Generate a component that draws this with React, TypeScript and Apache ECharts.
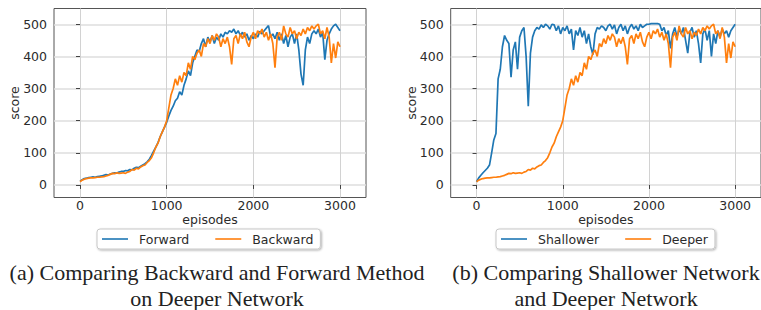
import React, { useEffect, useRef } from "react";
import * as echarts from "echarts";

const EPISODE_STEP = 25;

const forward = [
  12, 16, 20, 21, 23, 24, 25, 24, 26, 27,
  28, 30, 32, 31, 34, 36, 38, 37, 40, 42,
  42, 45, 44, 48, 47, 52, 55, 54, 58, 62,
  66, 72, 80, 92, 105, 118, 132, 150, 165, 180,
  195, 215, 232, 245, 262, 270, 290, 280, 310, 330,
  355, 340, 380, 400, 420, 415, 440, 455, 430, 460,
  445, 465, 440, 460, 450, 470, 460, 475, 470, 480,
  475, 485, 470, 480, 465, 475, 460, 470, 450, 465,
  455, 470, 460, 478, 470, 480, 488, 496, 460, 470,
  455, 475, 450, 470, 440, 465, 430, 460, 470, 440,
  470, 420, 345, 310, 420, 460, 440, 470, 480, 470,
  485, 460, 475, 390, 450, 470, 485, 495, 500, 490,
  480,
];

const deeperBackward = [
  10, 15, 18, 20, 21, 22, 22, 23, 24, 24,
  25, 26, 28, 30, 33, 36, 35, 38, 36, 37,
  38, 36, 40, 42, 48, 46, 52, 50, 56, 60,
  62, 70, 76, 85, 100, 118, 130, 150, 165, 180,
  200, 240, 280, 300, 330, 310, 340, 320, 350, 340,
  380, 360, 400, 390, 410, 420, 400, 440, 430, 455,
  440, 465, 450, 470, 460, 430, 455, 440, 460, 430,
  375, 455, 465, 440, 470, 455, 475, 445, 430, 460,
  475, 455, 480, 470, 485, 460, 475, 450, 470, 440,
  365, 460, 475, 450, 495, 470, 460, 490, 470, 480,
  455, 475, 465, 485, 470, 490, 480, 495, 485, 495,
  500, 470, 480, 455, 490, 460, 380, 440, 395, 445,
  430,
];

const shallower = [
  10, 22, 30, 38, 45, 52, 62, 100, 140, 160,
  330, 360, 430, 465, 450, 440, 335, 420, 445, 360,
  460, 480, 490, 400, 245, 410, 460, 480, 490, 485,
  498, 490, 500, 495, 485, 500, 498, 480, 495, 470,
  490, 480, 495, 470, 485, 420, 480, 465, 490, 460,
  480, 440, 470, 430, 405, 470, 490, 485, 495, 490,
  480, 495, 500, 485, 498, 470, 490, 500, 480, 495,
  470, 490, 500, 485, 495, 480, 500, 490, 495, 500,
  500, 502, 502, 502, 502, 500, 480, 490, 465, 480,
  425, 470, 490, 460, 485, 470, 490, 450, 410, 475,
  490, 460, 480, 440, 380, 470, 485, 450, 480, 400,
  470, 440, 480, 460, 485, 470, 480, 460, 480, 490,
  500,
];

const xTicks = [0, 1000, 2000, 3000];
const yTicks = [0, 100, 200, 300, 400, 500];

const BLUE = "#1f77b4";
const ORANGE = "#ff7f0e";
const FONT = "DejaVu Sans";

const toPairs = (arr: number[]) => arr.map((v, i) => [i * EPISODE_STEP, v]);

function makeX(gridIndex: number) {
  return {
    type: "value",
    gridIndex,
    min: -300,
    max: 3300,
    name: "episodes",
    nameLocation: "middle",
    nameGap: 15,
    nameMoveOverlap: false,
    nameTextStyle: { fontFamily: FONT, fontSize: 12.5, color: "#2b2b2b" },
    axisLine: { show: false },
    axisTick: { show: true, length: 4, lineStyle: { color: "#444" }, customValues: xTicks },
    axisLabel: {
      fontFamily: FONT,
      fontSize: 12.5,
      color: "#2b2b2b",
      margin: 1.5,
      customValues: xTicks,
      formatter: (v: number) => String(v),
    },
    splitLine: { show: true, lineStyle: { color: "#d2d2d2", width: 1 } },
  };
}

function makeY(gridIndex: number) {
  return {
    type: "value",
    gridIndex,
    min: -39,
    max: 549,
    name: "score",
    nameLocation: "middle",
    nameGap: 33,
    nameMoveOverlap: false,
    nameTextStyle: { fontFamily: FONT, fontSize: 12.5, color: "#2b2b2b" },
    axisLine: { show: false },
    axisTick: { show: true, length: 4, lineStyle: { color: "#444" }, customValues: yTicks },
    axisLabel: {
      fontFamily: FONT,
      fontSize: 12.5,
      color: "#2b2b2b",
      margin: 7,
      customValues: yTicks,
      formatter: (v: number) => String(v),
    },
    splitLine: { show: true, lineStyle: { color: "#dedede", width: 1.5 } },
  };
}

function makeSeries(name: string, data: number[], color: string, idx: number) {
  return {
    type: "line",
    name,
    xAxisIndex: idx,
    yAxisIndex: idx,
    data: toPairs(data),
    symbol: "none",
    showSymbol: false,
    lineStyle: { color, width: 1.7 },
    itemStyle: { color },
  };
}

function makeLegend(data: string[], left: number) {
  return {
    data,
    left,
    top: 229,
    orient: "horizontal",
    icon: "rect",
    itemWidth: 26,
    itemHeight: 1.6,
    itemGap: 26,
    padding: [2.5, 7, 2.5, 5],
    borderColor: "#c8c8c8",
    borderWidth: 1,
    borderRadius: 3,
    backgroundColor: "#fff",
    shadowColor: "rgba(0,0,0,0.3)",
    shadowBlur: 2,
    shadowOffsetX: 1,
    shadowOffsetY: 1,
    textStyle: { fontFamily: FONT, fontSize: 12.5, color: "#2b2b2b", padding: [0, 0, 0, 6], lineHeight: 15 },
  };
}

function caption(text: string, x: number, y: number) {
  return {
    type: "text",
    x,
    y,
    style: {
      text,
      fill: "#222",
      font: '22px "Liberation Serif"',
      textAlign: "center",
      align: "center",
      textVerticalAlign: "middle",
      verticalAlign: "middle",
    },
  };
}

export default function App() {
  const ref = useRef<HTMLDivElement>(null);
  useEffect(() => {
    if (!ref.current) return;
    const chart = echarts.init(ref.current, undefined, { renderer: "svg" });
    chart.setOption({
      animation: false,
      backgroundColor: "#fff",
      grid: [
        { left: 54, top: 8.5, width: 312, height: 189, show: true, borderColor: "#555", borderWidth: 1, backgroundColor: "transparent" },
        { left: 450.7, top: 8.5, width: 312, height: 189, show: true, borderColor: "#555", borderWidth: 1, backgroundColor: "transparent" },
      ],
      xAxis: [makeX(0), makeX(1)],
      yAxis: [makeY(0), makeY(1)],
      legend: [makeLegend(["Forward", "Backward"], 97), makeLegend(["Shallower", "Deeper"], 496)],
      series: [
        makeSeries("Forward", forward, BLUE, 0),
        makeSeries("Backward", deeperBackward, ORANGE, 0),
        makeSeries("Shallower", shallower, BLUE, 1),
        makeSeries("Deeper", deeperBackward, ORANGE, 1),
      ],
      graphic: [
        caption("(a) Comparing Backward and Forward Method", 217, 272),
        caption("on Deeper Network", 217, 298),
        caption("(b) Comparing Shallower Network", 606, 272),
        caption("and Deeper Network", 606, 298),
      ],
    });
    return () => chart.dispose();
  }, []);
  return <div ref={ref} style={{ position: "absolute", left: 0, top: 0, width: 761, height: 310 }} />;
}
